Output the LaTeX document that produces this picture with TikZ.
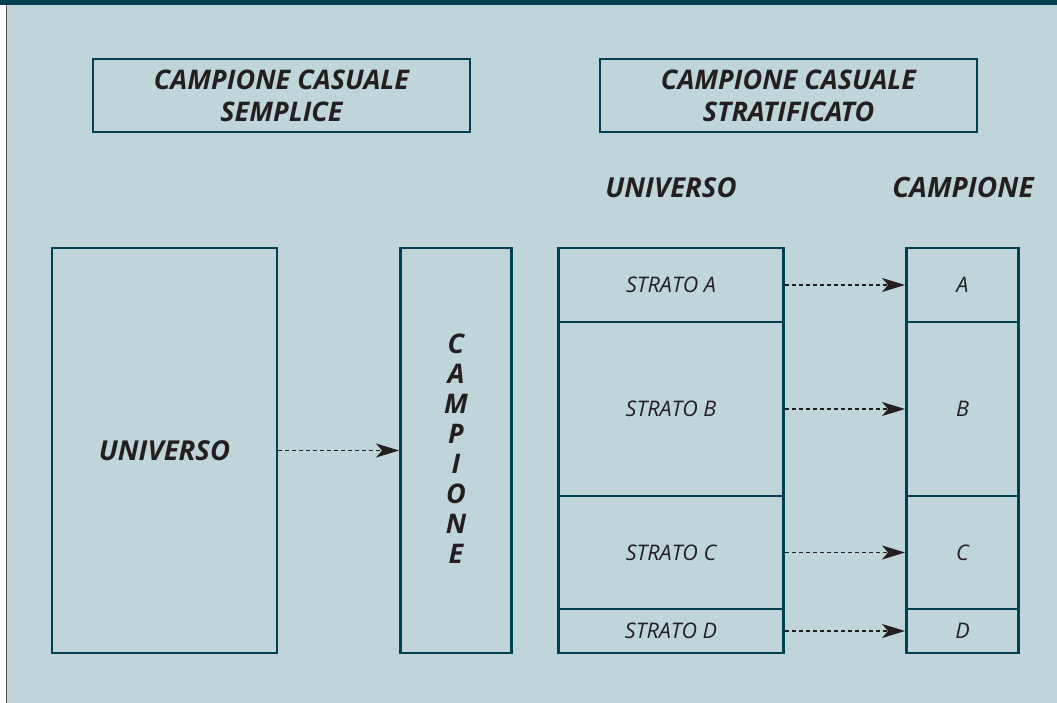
\documentclass[tikz,border=0pt]{standalone}
\usepackage{fontspec}
\setmainfont{Open Sans}
\usetikzlibrary{arrows.meta}

\definecolor{panelbg}{RGB}{192,213,218}
\definecolor{framecol}{RGB}{0,64,79}
\definecolor{inkcol}{RGB}{35,31,32}
\definecolor{edgegray}{RGB}{85,85,85}

\tikzset{
  box/.style={draw=framecol, line width=2.9pt, rectangle, inner sep=0pt,
              text=inkcol, font=\fontsize{21.5}{24}\selectfont\itshape},
  boldtxt/.style={text=inkcol, font=\fontsize{27}{32}\selectfont\bfseries\itshape},
  flow/.style={draw=inkcol, line width=1.2pt, dash pattern=on 4pt off 3pt,
               -{Stealth[length=23pt,width=14pt,inset=6pt]}},
}

\begin{document}
\begin{tikzpicture}[x=1pt,y=-1pt]
  \useasboundingbox (0,0) rectangle (1057,703);
  % page frame
  \fill[white] (0,0) rectangle (1057,703);
  \fill[panelbg] (7,0) rectangle (1057,703);
  \draw[edgegray, line width=1.5pt] (6.5,0) -- (6.5,703);
  \fill[framecol] (0,0) rectangle (1057,5);

  % titles
  \node[box, minimum width=377pt, minimum height=73pt, align=center,
        boldtxt] (t1) at (281.5,95.5) {CAMPIONE CASUALE\\SEMPLICE};
  \node[box, minimum width=377pt, minimum height=73pt, align=center,
        boldtxt] (t2) at (788.5,95.5) {CAMPIONE CASUALE\\STRATIFICATO};

  % column headers
  \node[boldtxt, font=\fontsize{27.5}{30}\selectfont\bfseries\itshape, anchor=base]
        (hU) at (671,198) {UNIVERSO};
  \node[boldtxt, font=\fontsize{28}{30}\selectfont\bfseries\itshape, anchor=base]
        (hC) at (963,198) {CAMPIONE};

  % simple random sample
  \node[box, minimum width=225pt, minimum height=405pt,
        font=\fontsize{27.5}{30}\selectfont\bfseries\itshape] (univ) at (164.5,450.5) {UNIVERSO};
  \node[box, minimum width=111pt, minimum height=405pt] (camp) at (456,450.5) {};
  \node[text=inkcol, align=center, font=\fontsize{27}{30}\selectfont\bfseries\itshape]
        (campt) at (456,449) {C\\A\\M\\P\\I\\O\\N\\E};
  \draw[flow] (univ.east) -- (camp.west);

  % stratified random sample: strata
  \node[box, minimum width=225pt, minimum height=74pt]  (sA) at (671,285)   {STRATO A};
  \node[box, minimum width=225pt, minimum height=174pt] (sB) at (671,409)   {STRATO B};
  \node[box, minimum width=225pt, minimum height=113pt] (sC) at (671,552.5) {STRATO C};
  \node[box, minimum width=225pt, minimum height=44pt]  (sD) at (671,631)   {STRATO D};

  % stratified random sample: sample parts
  \node[box, minimum width=112pt, minimum height=74pt]  (cA) at (962.5,285)   {A};
  \node[box, minimum width=112pt, minimum height=174pt] (cB) at (962.5,409)   {B};
  \node[box, minimum width=112pt, minimum height=113pt] (cC) at (962.5,552.5) {C};
  \node[box, minimum width=112pt, minimum height=44pt]  (cD) at (962.5,631)   {D};

  \draw[flow] (sA.east) -- (cA.west);
  \draw[flow] (sB.east) -- (cB.west);
  \draw[flow] (sC.east) -- (cC.west);
  \draw[flow] (sD.east) -- (cD.west);
\end{tikzpicture}
\end{document}
